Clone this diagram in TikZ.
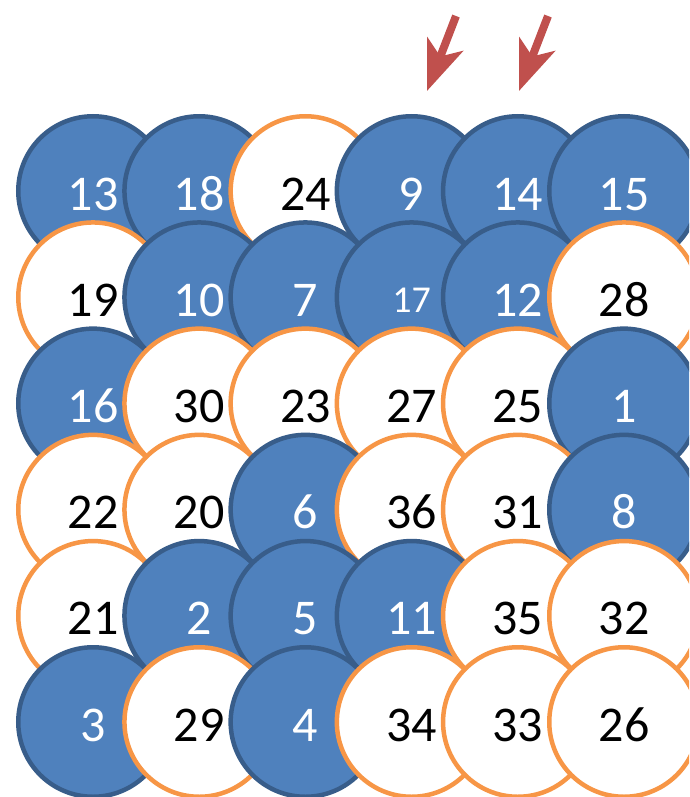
\documentclass[tikz,border=0pt]{standalone}
\usepackage{fontspec}
\setmainfont{Carlito}
\usetikzlibrary{arrows.meta}
\definecolor{dotblue}{HTML}{4F81BD}
\definecolor{dotedge}{HTML}{385D8A}
\definecolor{dotorange}{HTML}{F79646}
\definecolor{arrowred}{HTML}{C0504D}

\begin{document}
\begin{tikzpicture}[x=1pt,y=-1pt,
  dot/.style={circle, minimum size=149.5pt, inner sep=0pt, line width=4.5pt,
    font=\fontsize{50}{50}\selectfont, text height=38pt, text depth=0pt},
  bdot/.style={dot, fill=dotblue, draw=dotedge, text=white},
  bsmall/.style={bdot, font=\fontsize{38}{38}\selectfont, text height=30pt},
  wdot/.style={dot, fill=white, draw=dotorange, text=black},
  marker/.style={arrowred, line width=8pt, -{Stealth[length=50pt, width=38pt, inset=13pt]}}]
  \useasboundingbox (0,0) rectangle (689,797);
  \clip (0,0) rectangle (689,797);
  % grid of numbered dots, row by row
  \foreach \row [count=\r from 0] in {
      {13/bdot,18/bdot,24/wdot,9/bdot,14/bdot,15/bdot},
      {19/wdot,10/bdot,7/bdot,17/bsmall,12/bdot,28/wdot},
      {16/bdot,30/wdot,23/wdot,27/wdot,25/wdot,1/bdot},
      {22/wdot,20/wdot,6/bdot,36/wdot,31/wdot,8/bdot},
      {21/wdot,2/bdot,5/bdot,11/bdot,35/wdot,32/wdot},
      {3/bdot,29/wdot,4/bdot,34/wdot,33/wdot,26/wdot}}
    \foreach \n/\s [count=\c from 0] in \row
      \node[\s] (n\n) at (93+106.2*\c, 191+106.2*\r) {\n};
  % markers above columns
  \coordinate (m1s) at (456,16);
  \coordinate (m1t) at (427,91);
  \coordinate (m2s) at (548,16);
  \coordinate (m2t) at (519,91);
  \draw[marker] (m1s) -- (m1t);
  \draw[marker] (m2s) -- (m2t);
\end{tikzpicture}
\end{document}
